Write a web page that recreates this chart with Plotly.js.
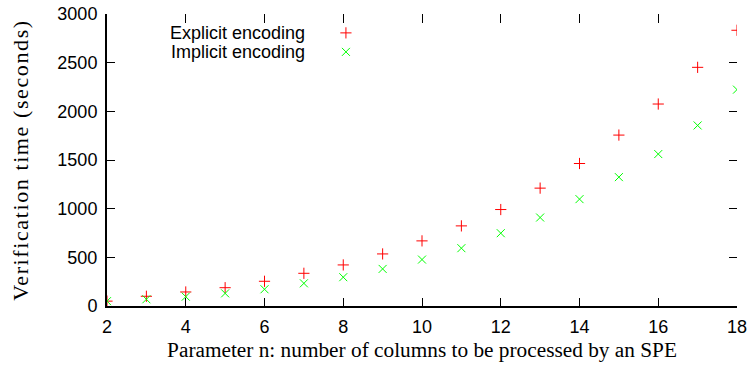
<!DOCTYPE html>
<html>
<head>
<meta charset="utf-8">
<script src="https://cdn.plot.ly/plotly-3.0.1.min.js"></script>
<style>
html,body{margin:0;padding:0;background:#fff;}
#chart{width:753px;height:366px;}
#chart .g-ytitle text{letter-spacing:1.6px;}
</style>
</head>
<body>
<div id="chart"></div>
<script>
const nValues = [2, 3, 4, 5, 6, 7, 8, 9, 10, 11, 12, 13, 14, 15, 16, 17, 18];
const explicitTimes = [50, 100, 144, 188, 254, 336, 422, 535, 669, 823, 991, 1211, 1464, 1756, 2075, 2452, 2833];
const implicitTimes = [50, 69, 96, 130, 172, 233, 296, 381, 477, 594, 748, 909, 1098, 1324, 1561, 1855, 2223];
const seriesNames = ['Explicit encoding', 'Implicit encoding'];
const xTitle = 'Parameter n: number of columns to be processed by an SPE';
const yTitle = 'Verification time (seconds)';

const sans = 'Liberation Sans, Arial, sans-serif';
const serif = 'Liberation Serif, Times New Roman, serif';

const data = [
  {x: nValues, y: explicitTimes, mode: 'markers', type: 'scatter', name: ' ',
   marker: {symbol: 'cross-thin-open', size: 8, color: '#ff0000', line: {color: '#ff0000', width: 1}}},
  {x: nValues, y: implicitTimes, mode: 'markers', type: 'scatter', name: '  ',
   marker: {symbol: 'x-thin-open', size: 8, color: '#00ff00', line: {color: '#00ff00', width: 1}}},
  {x: [], y: [], xaxis: 'x2', yaxis: 'y2', showlegend: false, type: 'scatter', mode: 'markers'}
];

const commonAxis = {showgrid: false, zeroline: false, ticks: 'inside', ticklen: 8, tickwidth: 1, tickcolor: '#000'};

const layout = {
  width: 753, height: 366,
  margin: {l: 107, r: 16, t: 14, b: 60},
  paper_bgcolor: '#fff', plot_bgcolor: '#fff',
  showlegend: true,
  legend: {x: 0.3475, y: 0.985, xanchor: 'left', yanchor: 'top', bgcolor: 'rgba(0,0,0,0)',
           font: {family: sans, size: 12}, tracegroupgap: 0, itemwidth: 30},
  xaxis: Object.assign({}, commonAxis, {
    range: [2, 18], dtick: 2, tick0: 2, showline: true, linecolor: '#000', linewidth: 2,
    ticklabelstandoff: 3,
    tickfont: {family: sans, size: 18, color: '#000'},
    title: {text: xTitle, font: {family: serif, size: 21.3, color: '#000'}, standoff: 6}
  }),
  yaxis: Object.assign({}, commonAxis, {
    range: [0, 3000], dtick: 500, tick0: 0, showline: true, linecolor: '#000', linewidth: 2,
    ticklabelstandoff: 4,
    tickfont: {family: sans, size: 18, color: '#000'},
    title: {text: yTitle, font: {family: serif, size: 22, color: '#000'}, standoff: 23}
  }),
  xaxis2: Object.assign({}, commonAxis, {
    overlaying: 'x', side: 'top', anchor: 'y2', range: [2, 18], dtick: 2, tick0: 2,
    showline: false, showticklabels: false, ticklen: 9
  }),
  yaxis2: Object.assign({}, commonAxis, {
    overlaying: 'y', side: 'right', anchor: 'x2', range: [0, 3000], dtick: 500, tick0: 0,
    showline: false, showticklabels: false
  }),
  annotations: [
    {text: seriesNames[0], xref: 'paper', yref: 'paper', x: 0.3175, y: 0.935, xanchor: 'right', yanchor: 'middle',
     showarrow: false, font: {family: sans, size: 18, color: '#000'}},
    {text: seriesNames[1], xref: 'paper', yref: 'paper', x: 0.3175, y: 0.870, xanchor: 'right', yanchor: 'middle',
     showarrow: false, font: {family: sans, size: 18, color: '#000'}}
  ]
};

Plotly.newPlot('chart', data, layout, {displayModeBar: false, staticPlot: true});
</script>
</body>
</html>
